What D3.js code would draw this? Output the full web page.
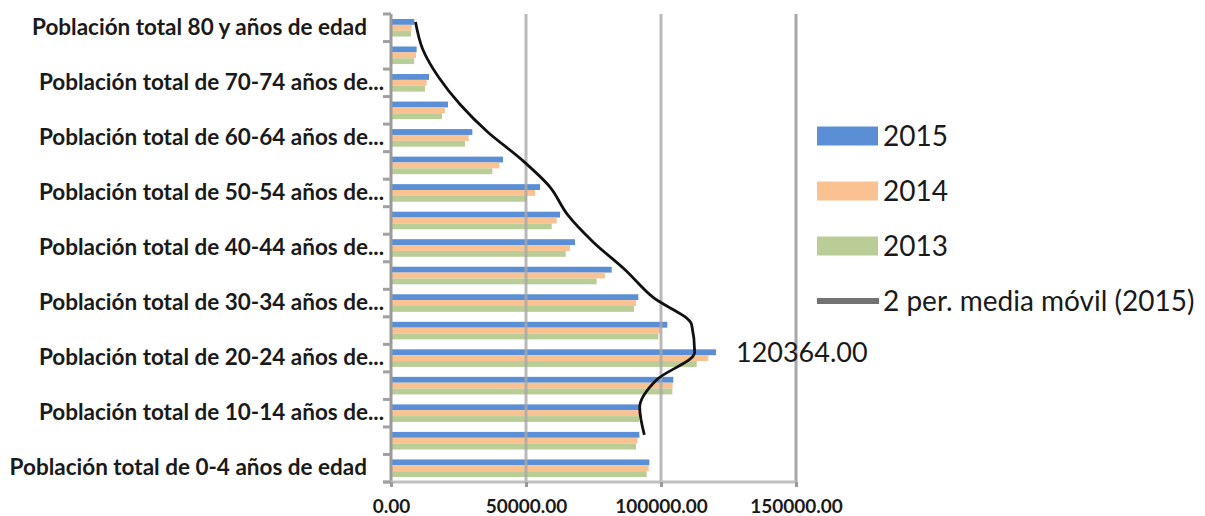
<!DOCTYPE html>
<meta charset="utf-8">
<style>
  body { margin: 0; background: #fff; }
  text { font-family: Lato, "Open Sans", sans-serif; fill: #1a1a1a; }
  .cat text { font-weight: bold; font-size: 22.5px; }
  .xaxis text { font-weight: bold; font-size: 19px; }
  .legend text { font-size: 28px; }
</style>
<body>
<svg id="chart" width="1205" height="516"></svg>
<script src="https://cdn.jsdelivr.net/npm/d3@7/dist/d3.min.js"></script>
<script>
// categories, bottom to top
var categories = [
  "Población total de 0-4 años de edad",
  "Población total de 5-9 años de edad",
  "Población total de 10-14 años de edad",
  "Población total de 15-19 años de edad",
  "Población total de 20-24 años de edad",
  "Población total de 25-29 años de edad",
  "Población total de 30-34 años de edad",
  "Población total de 35-39 años de edad",
  "Población total de 40-44 años de edad",
  "Población total de 45-49 años de edad",
  "Población total de 50-54 años de edad",
  "Población total de 55-59 años de edad",
  "Población total de 60-64 años de edad",
  "Población total de 65-69 años de edad",
  "Población total de 70-74 años de edad",
  "Población total de 75-79 años de edad",
  "Población total 80 y años de edad"
];
var years = ["2015", "2014", "2013"];
var values2015 = [95680, 91980, 92230, 104570, 120364, 102350, 91600, 81740, 68150, 62600, 55190, 41480, 30120, 21110, 14070, 9510, 8640];
var values2014 = [95430, 91230, 92000, 104300, 117530, 99900, 90750, 79260, 66300, 61370, 53340, 40120, 28770, 20000, 13210, 9260, 7660];
var values2013 = [94700, 90750, 91900, 104200, 113220, 99000, 90000, 76180, 64700, 59520, 50370, 37530, 27410, 18890, 12590, 8520, 7400];
var xTicks = [0, 50000, 100000, 150000];
var trendName = "2 per. media móvil (2015)";

var colors = { "2015": "#5a8fd5", "2014": "#fac191", "2013": "#bacd97" };
var seriesByYear = { "2015": values2015, "2014": values2014, "2013": values2013 };

var svg = d3.select("#chart");
var plotL = 391, plotR = 796, plotT = 14, plotB = 482;

var x = d3.scaleLinear().domain([0, 150000]).range([plotL, plotR]);
var yCat = d3.scaleBand().domain(categories.slice().reverse()).range([plotT, plotB]).padding(0);
var ySub = d3.scaleBand().domain(years).range([0, yCat.bandwidth()]).paddingOuter(0.85).paddingInner(0);

// bars
var rows = categories.map(function(c, i) {
  return { cat: c, vals: years.map(function(y) { return { year: y, v: seriesByYear[y][i] }; }) };
});

var groups = svg.append("g").selectAll("g")
  .data(rows).enter().append("g")
  .attr("transform", function(d) { return "translate(0," + yCat(d.cat) + ")"; });

groups.selectAll("rect")
  .data(function(d) { return d.vals; })
  .enter().append("rect")
  .attr("x", x(0))
  .attr("y", function(d) { return ySub(d.year); })
  .attr("width", function(d) { return x(d.v) - x(0); })
  .attr("height", ySub.bandwidth())
  .attr("fill", function(d) { return colors[d.year]; });

// vertical gridlines on top
svg.append("g").selectAll("line")
  .data(xTicks).enter().append("line")
  .attr("x1", function(d) { return x(d); })
  .attr("x2", function(d) { return x(d); })
  .attr("y1", plotT)
  .attr("y2", plotB)
  .attr("stroke", function(d) { return d === 0 ? "#9a9a9a" : "#a8a8a8"; })
  .attr("stroke-opacity", function(d) { return d === 0 || d === 150000 ? 1 : 0.8; })
  .attr("stroke-width", 3);

// x axis
var xAxis = svg.append("g")
  .attr("class", "xaxis")
  .attr("transform", "translate(0," + plotB + ")")
  .call(d3.axisBottom(x).tickValues(xTicks).tickFormat(d3.format(".2f")).tickSize(5).tickPadding(13));
xAxis.select(".domain").attr("stroke", "#c0c0c0").attr("stroke-width", 3).attr("d", "M" + (plotL - 8) + ",0H" + plotR);
xAxis.selectAll(".tick line").attr("stroke", "#9a9a9a").attr("stroke-width", 3);
xAxis.selectAll(".tick text").attr("fill", "#1a1a1a");

// category tick marks at band boundaries
var bounds = yCat.domain().map(function(c) { return yCat(c); }).concat([plotB]);
svg.append("g").selectAll("line")
  .data(bounds).enter().append("line")
  .attr("x1", plotL - 8).attr("x2", plotL)
  .attr("y1", function(d) { return d; }).attr("y2", function(d) { return d; })
  .attr("stroke", "#a0a0a0").attr("stroke-width", 3);

// category labels (every other)
var shown = categories.filter(function(c, i) { return i % 2 === 0; });
var yAxis = svg.append("g")
  .attr("class", "cat")
  .attr("transform", "translate(" + (plotL - 7) + ",0)")
  .call(d3.axisLeft(yCat).tickValues(shown).tickSize(0).tickPadding(0)
    .tickFormat(function(d) { return d.length > 35 ? d.slice(0, 32) + "..." : d; }));
yAxis.select(".domain").remove();
yAxis.selectAll(".tick text")
  .attr("fill", "#1a1a1a")
  .attr("dx", function(d) { return d.length > 35 ? 0 : -17; });

// 2-period moving average of 2015
var ma = [];
for (var i = 1; i < categories.length; i++) {
  ma.push({ cat: categories[i], v: (values2015[i] + values2015[i - 1]) / 2 });
}
var line = d3.line()
  .x(function(d) { return x(d.v); })
  .y(function(d) { return yCat(d.cat) + ySub("2015") + ySub.bandwidth() / 2; })
  .curve(d3.curveMonotoneY);
svg.append("path")
  .datum(ma)
  .attr("d", line)
  .attr("fill", "none")
  .attr("stroke", "#111")
  .attr("stroke-width", 2.8);

// data label on the 20-24 bar of 2015
var peak = d3.maxIndex(values2015);
svg.append("text")
  .attr("x", x(values2015[peak]) + 20)
  .attr("y", yCat(categories[peak]) + ySub("2015") + ySub.bandwidth() / 2 + 10)
  .style("font-size", "27px")
  .text(d3.format(".2f")(values2015[peak]));

// legend
var legendItems = years.concat([trendName]);
var lg = svg.append("g").attr("class", "legend")
  .selectAll("g").data(legendItems).enter().append("g")
  .attr("transform", function(d, i) { return "translate(817," + (136 + i * 55) + ")"; });
lg.each(function(d) {
  var g = d3.select(this);
  if (colors[d]) {
    g.append("rect").attr("x", 0).attr("y", -9.5).attr("width", 61).attr("height", 19).attr("fill", colors[d]);
  } else {
    g.append("rect").attr("x", 0).attr("y", -3).attr("width", 62).attr("height", 6).attr("fill", "#727272");
  }
  g.append("text").attr("x", 66).attr("y", 10).text(d);
});
</script>
</body>
